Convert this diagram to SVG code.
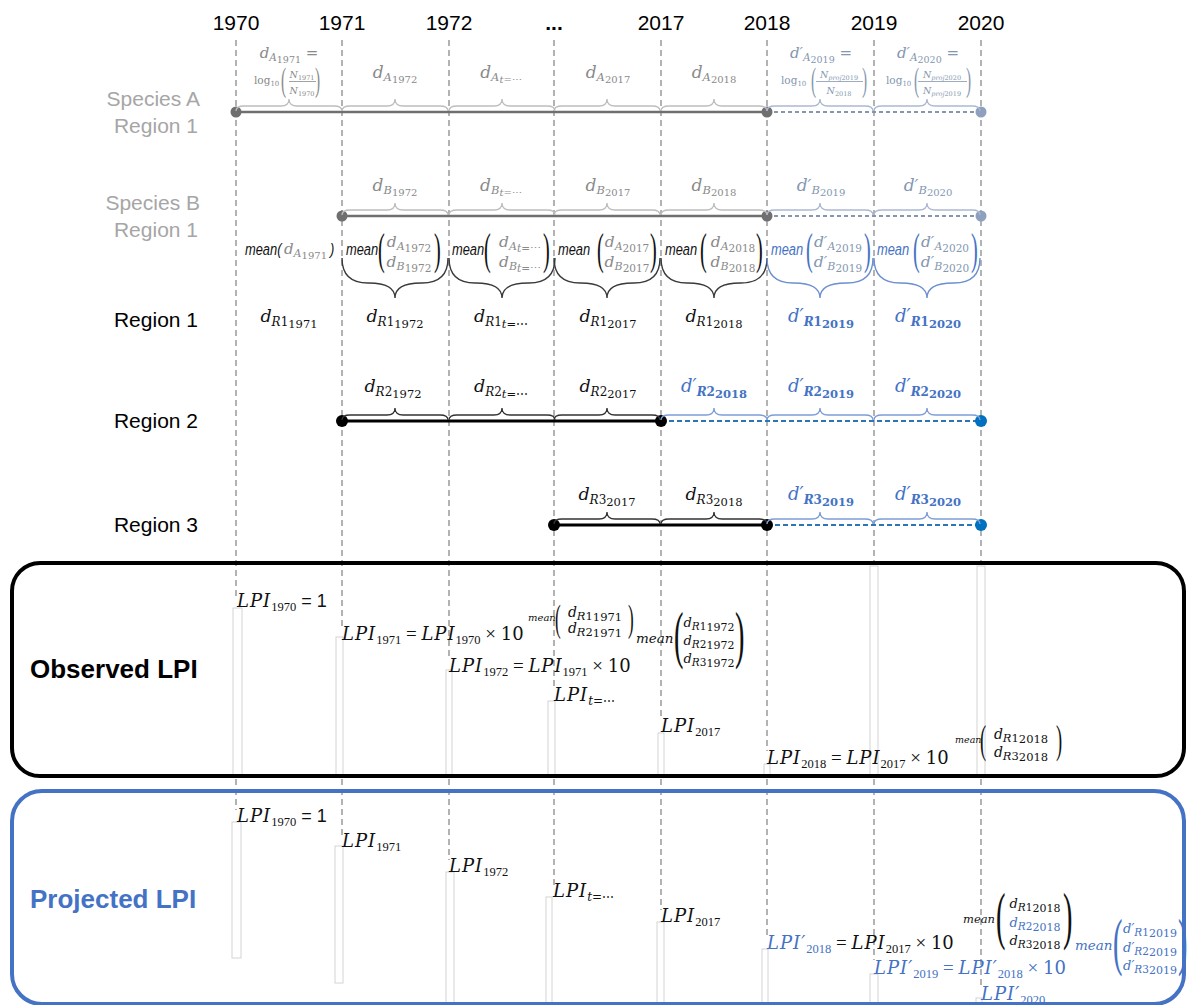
<svg xmlns="http://www.w3.org/2000/svg" width="1187" height="1005" viewBox="0 0 1187 1005">
<style>
text{font-family:"DejaVu Serif",serif}
.yr{font-family:"Liberation Sans",Arial,sans-serif;font-size:21px;text-anchor:middle;fill:#000}
.rl{font-family:"Liberation Sans",Arial,sans-serif;font-size:21px;text-anchor:end}
.bl{font-family:"Liberation Sans",Arial,sans-serif;font-size:26px;font-weight:bold}
.m{font-style:italic}
.u{font-style:normal}
.c{text-anchor:middle}
.sn{font-family:"Liberation Sans",Arial,sans-serif;font-style:italic;font-size:16.5px}
.pr{font-family:"Liberation Serif",serif;font-style:normal}
.op{font-family:"Liberation Serif",serif;font-style:normal}
.ls{font-family:"Liberation Serif",serif;font-style:normal;font-size:12.5px}
.vd{fill:none;stroke:#808080;stroke-width:1.2;stroke-dasharray:6 4}
.tb{fill:#fff;stroke:#d4d4d4;stroke-width:1}
.g{fill:#8a8a8a}.gb{fill:#8497b0}.k{fill:#111}.b{fill:#4472c4}
.brg{fill:none;stroke:#bdbdbd;stroke-width:1.3}
.brgb{fill:none;stroke:#aab9d1;stroke-width:1.3}
.brk{fill:none;stroke:#333;stroke-width:1.3}
.brb{fill:none;stroke:#7d9dd6;stroke-width:1.3}
.bbk{fill:none;stroke:#3a3a3a;stroke-width:1.4}
.bbb{fill:none;stroke:#6b8fd0;stroke-width:1.4}
.sl{stroke:#6f6f6f;stroke-width:2.5}
.sd{stroke:#8497b0;stroke-width:2;stroke-dasharray:4 3}
.kl{stroke:#000;stroke-width:3}
.bd{stroke:#2e75b6;stroke-width:2.2;stroke-dasharray:5 3}
</style>
<defs>
<path id="sb" d="M0,0 Q0,-5 8,-5 L45,-5 Q53,-5 53,-12 Q53,-5 61,-5 L98,-5 Q106,-5 106,0"/>
<path id="bb" d="M0,0 Q0,25 26,25 L27,25 Q53,25 53,40 Q53,25 79,25 L80,25 Q106,25 106,0"/>
</defs>
<rect width="1187" height="1005" fill="#fff"/>

<g id="connectors">
<line class="vd" x1="236" y1="40" x2="236" y2="600"/>
<line class="vd" x1="342" y1="40" x2="342" y2="626"/>
<line class="vd" x1="449" y1="40" x2="449" y2="658"/>
<line class="vd" x1="554" y1="40" x2="554" y2="688"/>
<line class="vd" x1="661" y1="40" x2="661" y2="719"/>
<line class="vd" x1="767" y1="40" x2="767" y2="751"/>
<line class="vd" x1="874" y1="40" x2="874" y2="563"/>
<line class="vd" x1="981" y1="40" x2="981" y2="563"/>
<line class="vd" x1="236" y1="779" x2="236" y2="810"/>
<line class="vd" x1="342" y1="779" x2="342" y2="835"/>
<line class="vd" x1="449" y1="779" x2="449" y2="860"/>
<line class="vd" x1="554" y1="779" x2="554" y2="885"/>
<line class="vd" x1="661" y1="779" x2="661" y2="910"/>
<line class="vd" x1="767" y1="779" x2="767" y2="936"/>
<line class="vd" x1="874" y1="779" x2="874" y2="960"/>
<line class="vd" x1="981" y1="779" x2="981" y2="986"/>
<line class="sl" x1="236" y1="112" x2="767" y2="112"/>
<line class="sd" x1="767" y1="112" x2="981" y2="112"/>
<line class="sl" x1="342" y1="216" x2="767" y2="216"/>
<line class="sd" x1="767" y1="216" x2="981" y2="216"/>
<line class="kl" x1="342" y1="421" x2="661" y2="421"/>
<line class="bd" x1="661" y1="421" x2="981" y2="421"/>
<line class="kl" x1="554" y1="525" x2="767" y2="525"/>
<line class="bd" x1="767" y1="525" x2="981" y2="525"/>
</g>

<g id="textframes">
<rect class="tb" x="233" y="608" width="9" height="167"/>
<rect class="tb" x="336" y="637" width="7" height="138"/>
<rect class="tb" x="446" y="670" width="6" height="105"/>
<rect class="tb" x="548" y="701" width="7" height="74"/>
<rect class="tb" x="658" y="733" width="6" height="42"/>
<rect class="tb" x="764" y="764" width="6" height="11"/>
<rect class="tb" x="870" y="566" width="8" height="209"/>
<rect class="tb" x="977" y="566" width="8" height="209"/>
<rect class="tb" x="232" y="822" width="9" height="136"/>
<rect class="tb" x="335" y="846" width="8" height="137"/>
<rect class="tb" x="446" y="872" width="8" height="133"/>
<rect class="tb" x="546" y="897" width="6" height="108"/>
<rect class="tb" x="657" y="922" width="7" height="83"/>
<rect class="tb" x="762" y="949" width="6" height="56"/>
<rect class="tb" x="870" y="974" width="8" height="31"/>
<rect class="tb" x="976" y="998" width="6" height="7"/>
</g>

<g id="years">
<text class="yr" x="236" y="30">1970</text>
<text class="yr" x="342" y="30">1971</text>
<text class="yr" x="449" y="30">1972</text>
<text class="yr" x="554" y="30" font-weight="bold">...</text>
<text class="yr" x="661" y="30">2017</text>
<text class="yr" x="767" y="30">2018</text>
<text class="yr" x="874" y="30">2019</text>
<text class="yr" x="981" y="30">2020</text>
</g>

<g id="speciesA">
<text class="rl" x="200" y="106" fill="#a6a6a6">Species A</text>
<text class="rl" x="198" y="133" fill="#a6a6a6">Region 1</text>
<circle cx="236" cy="112" r="5.5" fill="#6f6f6f"/>
<circle cx="767" cy="112" r="5.5" fill="#6f6f6f"/>
<circle cx="981" cy="112" r="5.5" fill="#8ea0bd"/>
<use href="#sb" x="236" y="111" class="brg"/>
<use href="#sb" x="342" y="111" class="brg"/>
<use href="#sb" x="449" y="111" class="brg"/>
<use href="#sb" x="554" y="111" class="brg"/>
<use href="#sb" x="661" y="111" class="brg"/>
<use href="#sb" x="767" y="111" class="brgb"/>
<use href="#sb" x="874" y="111" class="brgb"/>
<text class="m g c" x="289" y="58" font-size="15">d<tspan font-size="10.5" dy="3">A</tspan><tspan class="u" font-size="9.5" dy="1.5">1971</tspan><tspan class="u" font-size="15" dy="-4.5"> =</tspan></text>
<text class="g" x="254" y="84" font-size="10.5">log<tspan font-size="7" dy="2">10</tspan></text>
<text class="pr g" font-size="34" transform="translate(281,91) scale(0.45,1)">(</text>
<text class="m g c" x="302" y="78" font-size="9.5">N<tspan class="u" font-size="6.5" dy="1.5">1971</tspan></text>
<line x1="289" y1="81.5" x2="316" y2="81.5" stroke="#8a8a8a" stroke-width="0.8"/>
<text class="m g c" x="302" y="94" font-size="9.5">N<tspan class="u" font-size="6.5" dy="1.5">1970</tspan></text>
<text class="pr g" font-size="34" transform="translate(315,91) scale(0.45,1)">)</text>
<text class="m g c" x="395" y="78" font-size="17">d<tspan font-size="11.5" dy="3">A</tspan><tspan class="u" font-size="10" dy="1.5">1972</tspan></text>
<text class="m g c" x="501" y="78" font-size="17">d<tspan font-size="11.5" dy="3">A</tspan><tspan font-size="10" dy="1.5">t<tspan class="u">=⋯</tspan></tspan></text>
<text class="m g c" x="608" y="78" font-size="17">d<tspan font-size="11.5" dy="3">A</tspan><tspan class="u" font-size="10" dy="1.5">2017</tspan></text>
<text class="m g c" x="714" y="78" font-size="17">d<tspan font-size="11.5" dy="3">A</tspan><tspan class="u" font-size="10" dy="1.5">2018</tspan></text>
<text class="m gb c" x="821" y="58" font-size="15">d′<tspan font-size="10.5" dy="3">A</tspan><tspan class="u" font-size="9.5" dy="1.5">2019</tspan><tspan class="u" font-size="15" dy="-4.5"> =</tspan></text>
<text class="gb" x="781" y="84" font-size="10.5">log<tspan font-size="7" dy="2">10</tspan></text>
<text class="pr gb" font-size="34" transform="translate(811,91) scale(0.45,1)">(</text>
<text class="m gb c" x="839" y="78" font-size="9.5">N<tspan font-size="6.5" dy="1.5">proj<tspan class="u">2019</tspan></tspan></text>
<line x1="816" y1="81.5" x2="863" y2="81.5" stroke="#8497b0" stroke-width="0.8"/>
<text class="m gb c" x="839" y="94" font-size="9.5">N<tspan class="u" font-size="6.5" dy="1.5">2018</tspan></text>
<text class="pr gb" font-size="34" transform="translate(862,91) scale(0.45,1)">)</text>
<text class="m gb c" x="928" y="58" font-size="15">d′<tspan font-size="10.5" dy="3">A</tspan><tspan class="u" font-size="9.5" dy="1.5">2020</tspan><tspan class="u" font-size="15" dy="-4.5"> =</tspan></text>
<text class="gb" x="886" y="84" font-size="10.5">log<tspan font-size="7" dy="2">10</tspan></text>
<text class="pr gb" font-size="34" transform="translate(914,91) scale(0.45,1)">(</text>
<text class="m gb c" x="942" y="78" font-size="9.5">N<tspan font-size="6.5" dy="1.5">proj<tspan class="u">2020</tspan></tspan></text>
<line x1="918" y1="81.5" x2="967" y2="81.5" stroke="#8497b0" stroke-width="0.8"/>
<text class="m gb c" x="942" y="94" font-size="9.5">N<tspan font-size="6.5" dy="1.5">proj<tspan class="u">2019</tspan></tspan></text>
<text class="pr gb" font-size="34" transform="translate(966,91) scale(0.45,1)">)</text>
</g>

<g id="speciesB">
<text class="rl" x="200" y="210" fill="#a6a6a6">Species B</text>
<text class="rl" x="198" y="237" fill="#a6a6a6">Region 1</text>
<circle cx="342" cy="216" r="5.5" fill="#6f6f6f"/>
<circle cx="767" cy="216" r="5.5" fill="#6f6f6f"/>
<circle cx="981" cy="216" r="5.5" fill="#8ea0bd"/>
<use href="#sb" x="342" y="215" class="brg"/>
<use href="#sb" x="449" y="215" class="brg"/>
<use href="#sb" x="554" y="215" class="brg"/>
<use href="#sb" x="661" y="215" class="brg"/>
<use href="#sb" x="767" y="215" class="brgb"/>
<use href="#sb" x="874" y="215" class="brgb"/>
<text class="m g c" x="395" y="191" font-size="17">d<tspan font-size="11.5" dy="3">B</tspan><tspan class="u" font-size="10" dy="1.5">1972</tspan></text>
<text class="m g c" x="501" y="191" font-size="17">d<tspan font-size="11.5" dy="3">B</tspan><tspan font-size="10" dy="1.5">t<tspan class="u">=⋯</tspan></tspan></text>
<text class="m g c" x="608" y="191" font-size="17">d<tspan font-size="11.5" dy="3">B</tspan><tspan class="u" font-size="10" dy="1.5">2017</tspan></text>
<text class="m g c" x="714" y="191" font-size="17">d<tspan font-size="11.5" dy="3">B</tspan><tspan class="u" font-size="10" dy="1.5">2018</tspan></text>
<text class="m gb c" x="821" y="191" font-size="17">d′<tspan font-size="11.5" dy="3">B</tspan><tspan class="u" font-size="10" dy="1.5">2019</tspan></text>
<text class="m gb c" x="928" y="191" font-size="17">d′<tspan font-size="11.5" dy="3">B</tspan><tspan class="u" font-size="10" dy="1.5">2020</tspan></text>
</g>

<g id="means">
<text class="sn k" transform="translate(245,255) scale(0.78,1)">mean(</text>
<text class="m g" x="284" y="254" font-size="15">d<tspan font-size="11" dy="3">A</tspan><tspan class="u" font-size="10" dy="1.5">1971</tspan></text>
<text class="sn k" transform="translate(330,255) scale(0.78,1)">)</text>
<use href="#bb" x="342" y="258" class="bbk"/>
<use href="#bb" x="449" y="258" class="bbk"/>
<use href="#bb" x="554" y="258" class="bbk"/>
<use href="#bb" x="661" y="258" class="bbk"/>
<use href="#bb" x="767" y="258" class="bbb"/>
<use href="#bb" x="874" y="258" class="bbb"/>
<text class="sn k" transform="translate(346,255) scale(0.78,1)">mean</text>
<text class="pr k" font-size="45" transform="translate(378,264) scale(0.45,1)">(</text>
<text class="m g c" x="409" y="247" font-size="15.5">d<tspan font-size="11" dy="3">A</tspan><tspan class="u" font-size="10.5" dy="1.5">1972</tspan></text>
<text class="m g c" x="409" y="267" font-size="15.5">d<tspan font-size="11" dy="3">B</tspan><tspan class="u" font-size="10.5" dy="1.5">1972</tspan></text>
<text class="pr k" font-size="45" transform="translate(434,264) scale(0.45,1)">)</text>
<text class="sn k" transform="translate(452,255) scale(0.78,1)">mean</text>
<text class="pr k" font-size="45" transform="translate(484,264) scale(0.45,1)">(</text>
<text class="m g c" x="520" y="247" font-size="15.5">d<tspan font-size="11" dy="3">A</tspan><tspan font-size="10.5" dy="1.5">t<tspan class="u">=⋯</tspan></tspan></text>
<text class="m g c" x="520" y="267" font-size="15.5">d<tspan font-size="11" dy="3">B</tspan><tspan font-size="10.5" dy="1.5">t<tspan class="u">=⋯</tspan></tspan></text>
<text class="pr k" font-size="45" transform="translate(543,264) scale(0.45,1)">)</text>
<text class="sn k" transform="translate(558,255) scale(0.78,1)">mean</text>
<text class="pr k" font-size="45" transform="translate(597,264) scale(0.45,1)">(</text>
<text class="m g c" x="627" y="247" font-size="15.5">d<tspan font-size="11" dy="3">A</tspan><tspan class="u" font-size="10.5" dy="1.5">2017</tspan></text>
<text class="m g c" x="627" y="267" font-size="15.5">d<tspan font-size="11" dy="3">B</tspan><tspan class="u" font-size="10.5" dy="1.5">2017</tspan></text>
<text class="pr k" font-size="45" transform="translate(650,264) scale(0.45,1)">)</text>
<text class="sn k" transform="translate(665,255) scale(0.78,1)">mean</text>
<text class="pr k" font-size="45" transform="translate(700,264) scale(0.45,1)">(</text>
<text class="m g c" x="733" y="247" font-size="15.5">d<tspan font-size="11" dy="3">A</tspan><tspan class="u" font-size="10.5" dy="1.5">2018</tspan></text>
<text class="m g c" x="733" y="267" font-size="15.5">d<tspan font-size="11" dy="3">B</tspan><tspan class="u" font-size="10.5" dy="1.5">2018</tspan></text>
<text class="pr k" font-size="45" transform="translate(756,264) scale(0.45,1)">)</text>
<text class="sn b" transform="translate(771,255) scale(0.78,1)">mean</text>
<text class="pr b" font-size="45" transform="translate(806,264) scale(0.45,1)">(</text>
<text class="m gb c" x="838" y="247" font-size="15.5">d′<tspan font-size="11" dy="3">A</tspan><tspan class="u" font-size="10.5" dy="1.5">2019</tspan></text>
<text class="m gb c" x="838" y="267" font-size="15.5">d′<tspan font-size="11" dy="3">B</tspan><tspan class="u" font-size="10.5" dy="1.5">2019</tspan></text>
<text class="pr b" font-size="45" transform="translate(864,264) scale(0.45,1)">)</text>
<text class="sn b" transform="translate(877,255) scale(0.78,1)">mean</text>
<text class="pr b" font-size="45" transform="translate(913,264) scale(0.45,1)">(</text>
<text class="m gb c" x="945" y="247" font-size="15.5">d′<tspan font-size="11" dy="3">A</tspan><tspan class="u" font-size="10.5" dy="1.5">2020</tspan></text>
<text class="m gb c" x="945" y="267" font-size="15.5">d′<tspan font-size="11" dy="3">B</tspan><tspan class="u" font-size="10.5" dy="1.5">2020</tspan></text>
<text class="pr b" font-size="45" transform="translate(971,264) scale(0.45,1)">)</text>
</g>

<g id="region1">
<text class="rl" x="198" y="327" fill="#000">Region 1</text>
<text class="m k c" x="289" y="322" font-size="17.5">d<tspan font-size="12" dy="4">R<tspan class="u">1</tspan></tspan><tspan class="u" font-size="11.5" dy="2">1971</tspan></text>
<text class="m k c" x="395" y="322" font-size="17.5">d<tspan font-size="12" dy="4">R<tspan class="u">1</tspan></tspan><tspan class="u" font-size="11.5" dy="2">1972</tspan></text>
<text class="m k c" x="501" y="322" font-size="17.5">d<tspan font-size="12" dy="4">R<tspan class="u">1</tspan></tspan><tspan font-size="11.5" dy="2">t<tspan class="u">=⋯</tspan></tspan></text>
<text class="m k c" x="608" y="322" font-size="17.5">d<tspan font-size="12" dy="4">R<tspan class="u">1</tspan></tspan><tspan class="u" font-size="11.5" dy="2">2017</tspan></text>
<text class="m k c" x="714" y="322" font-size="17.5">d<tspan font-size="12" dy="4">R<tspan class="u">1</tspan></tspan><tspan class="u" font-size="11.5" dy="2">2018</tspan></text>
<text class="m b c" x="821" y="322" font-size="18">d′<tspan font-size="12" dy="4" font-weight="bold">R<tspan class="u">1</tspan></tspan><tspan class="u" font-size="11.5" dy="2" font-weight="bold">2019</tspan></text>
<text class="m b c" x="928" y="322" font-size="18">d′<tspan font-size="12" dy="4" font-weight="bold">R<tspan class="u">1</tspan></tspan><tspan class="u" font-size="11.5" dy="2" font-weight="bold">2020</tspan></text>
</g>

<g id="region2">
<text class="rl" x="198" y="428" fill="#000">Region 2</text>
<circle cx="342" cy="421" r="6" fill="#000"/>
<circle cx="661" cy="421" r="6" fill="#000"/>
<circle cx="981" cy="421" r="6" fill="#0070c0"/>
<use href="#sb" x="342" y="420" class="brk"/>
<use href="#sb" x="449" y="420" class="brk"/>
<use href="#sb" x="554" y="420" class="brk"/>
<use href="#sb" x="661" y="420" class="brb"/>
<use href="#sb" x="767" y="420" class="brb"/>
<use href="#sb" x="874" y="420" class="brb"/>
<text class="m k c" x="393" y="392" font-size="17.5">d<tspan font-size="12" dy="4">R<tspan class="u">2</tspan></tspan><tspan class="u" font-size="11.5" dy="2">1972</tspan></text>
<text class="m k c" x="501" y="392" font-size="17.5">d<tspan font-size="12" dy="4">R<tspan class="u">2</tspan></tspan><tspan font-size="11.5" dy="2">t<tspan class="u">=⋯</tspan></tspan></text>
<text class="m k c" x="608" y="392" font-size="17.5">d<tspan font-size="12" dy="4">R<tspan class="u">2</tspan></tspan><tspan class="u" font-size="11.5" dy="2">2017</tspan></text>
<text class="m b c" x="714" y="392" font-size="18">d′<tspan font-size="12" dy="4" font-weight="bold">R<tspan class="u">2</tspan></tspan><tspan class="u" font-size="11.5" dy="2" font-weight="bold">2018</tspan></text>
<text class="m b c" x="821" y="392" font-size="18">d′<tspan font-size="12" dy="4" font-weight="bold">R<tspan class="u">2</tspan></tspan><tspan class="u" font-size="11.5" dy="2" font-weight="bold">2019</tspan></text>
<text class="m b c" x="928" y="392" font-size="18">d′<tspan font-size="12" dy="4" font-weight="bold">R<tspan class="u">2</tspan></tspan><tspan class="u" font-size="11.5" dy="2" font-weight="bold">2020</tspan></text>
</g>

<g id="region3">
<text class="rl" x="198" y="532" fill="#000">Region 3</text>
<circle cx="554" cy="525" r="6" fill="#000"/>
<circle cx="767" cy="525" r="6" fill="#000"/>
<circle cx="981" cy="525" r="6" fill="#0070c0"/>
<use href="#sb" x="554" y="524" class="brk"/>
<use href="#sb" x="661" y="524" class="brk"/>
<use href="#sb" x="767" y="524" class="brb"/>
<use href="#sb" x="874" y="524" class="brb"/>
<text class="m k c" x="607" y="500" font-size="17.5">d<tspan font-size="12" dy="4">R<tspan class="u">3</tspan></tspan><tspan class="u" font-size="11.5" dy="2">2017</tspan></text>
<text class="m k c" x="714" y="500" font-size="17.5">d<tspan font-size="12" dy="4">R<tspan class="u">3</tspan></tspan><tspan class="u" font-size="11.5" dy="2">2018</tspan></text>
<text class="m b c" x="821" y="500" font-size="18">d′<tspan font-size="12" dy="4" font-weight="bold">R<tspan class="u">3</tspan></tspan><tspan class="u" font-size="11.5" dy="2" font-weight="bold">2019</tspan></text>
<text class="m b c" x="928" y="500" font-size="18">d′<tspan font-size="12" dy="4" font-weight="bold">R<tspan class="u">3</tspan></tspan><tspan class="u" font-size="11.5" dy="2" font-weight="bold">2020</tspan></text>
</g>

<g id="observed">
<rect x="12" y="563" width="1172" height="213" rx="28" fill="none" stroke="#000" stroke-width="4"/>
<text class="bl" x="30" y="678" fill="#000">Observed LPI</text>
<text class="k" x="237" y="607" font-size="18"><tspan class="m" letter-spacing="1">LPI</tspan><tspan class="ls" dy="4">1970</tspan><tspan font-family="Liberation Sans" dy="-4"> = 1</tspan></text>
<text class="k" x="342" y="640" font-size="18"><tspan class="m" letter-spacing="1">LPI</tspan><tspan class="ls" dy="4">1971</tspan><tspan class="op" font-size="19" dy="-4"> = </tspan><tspan class="m" letter-spacing="1">LPI</tspan><tspan class="ls" dy="4">1970</tspan><tspan class="op" font-size="19" dy="-4"> × </tspan><tspan>10</tspan></text>
<text class="m k" x="528" y="621" font-size="10">mean</text>
<text class="pr k" font-size="38" transform="translate(555,631) scale(0.45,1)">(</text>
<text class="m k c" x="595" y="617" font-size="14">d<tspan font-size="11.5" dy="2.5">R<tspan class="u">1</tspan></tspan><tspan class="u" font-size="11.5" dy="1.5">1971</tspan></text>
<text class="m k c" x="595" y="633" font-size="14">d<tspan font-size="11.5" dy="2.5">R<tspan class="u">2</tspan></tspan><tspan class="u" font-size="11.5" dy="1.5">1971</tspan></text>
<text class="pr k" font-size="38" transform="translate(628,631) scale(0.45,1)">)</text>
<text class="k" x="449" y="672" font-size="18"><tspan class="m" letter-spacing="1">LPI</tspan><tspan class="ls" dy="4">1972</tspan><tspan class="op" font-size="19" dy="-4"> = </tspan><tspan class="m" letter-spacing="1">LPI</tspan><tspan class="ls" dy="4">1971</tspan><tspan class="op" font-size="19" dy="-4"> × </tspan><tspan>10</tspan></text>
<text class="m k" x="636" y="643" font-size="13.5">mean</text>
<text class="pr k" font-size="63" transform="translate(674,656) scale(0.45,1)">(</text>
<text class="m k c" x="709" y="627" font-size="13">d<tspan font-size="10.5" dy="2.5">R<tspan class="u">1</tspan></tspan><tspan class="u" font-size="11" dy="1.5">1972</tspan></text>
<text class="m k c" x="709" y="645" font-size="13">d<tspan font-size="10.5" dy="2.5">R<tspan class="u">2</tspan></tspan><tspan class="u" font-size="11" dy="1.5">1972</tspan></text>
<text class="m k c" x="709" y="663" font-size="13">d<tspan font-size="10.5" dy="2.5">R<tspan class="u">3</tspan></tspan><tspan class="u" font-size="11" dy="1.5">1972</tspan></text>
<text class="pr k" font-size="63" transform="translate(735,656) scale(0.45,1)">)</text>
<text class="k" x="554" y="701" font-size="18"><tspan class="m" letter-spacing="1">LPI</tspan><tspan class="m" font-size="12" dy="4">t<tspan class="u">=⋯</tspan></tspan></text>
<text class="k" x="661" y="732" font-size="18"><tspan class="m" letter-spacing="1">LPI</tspan><tspan class="ls" dy="4">2017</tspan></text>
<text class="k" x="767" y="764" font-size="18"><tspan class="m" letter-spacing="1">LPI</tspan><tspan class="ls" dy="4">2018</tspan><tspan class="op" font-size="19" dy="-4"> = </tspan><tspan class="m" letter-spacing="1">LPI</tspan><tspan class="ls" dy="4">2017</tspan><tspan class="op" font-size="19" dy="-4"> × </tspan><tspan>10</tspan></text>
<text class="m k" x="955" y="743" font-size="9.5">mean</text>
<text class="pr k" font-size="41" transform="translate(980,753) scale(0.45,1)">(</text>
<text class="m k c" x="1021" y="739" font-size="14">d<tspan font-size="11.5" dy="2.5">R<tspan class="u">1</tspan></tspan><tspan class="u" font-size="11.5" dy="1.5">2018</tspan></text>
<text class="m k c" x="1021" y="757" font-size="14">d<tspan font-size="11.5" dy="2.5">R<tspan class="u">3</tspan></tspan><tspan class="u" font-size="11.5" dy="1.5">2018</tspan></text>
<text class="pr k" font-size="41" transform="translate(1056,753) scale(0.45,1)">)</text>
</g>

<g id="projected">
<rect x="12" y="791" width="1172" height="213" rx="30" fill="none" stroke="#4472c4" stroke-width="4"/>
<text class="bl" x="30" y="908" fill="#4472c4">Projected LPI</text>
<text class="k" x="237" y="822" font-size="18"><tspan class="m" letter-spacing="1">LPI</tspan><tspan class="ls" dy="4">1970</tspan><tspan font-family="Liberation Sans" dy="-4"> = 1</tspan></text>
<text class="k" x="342" y="847" font-size="18"><tspan class="m" letter-spacing="1">LPI</tspan><tspan class="ls" dy="4">1971</tspan></text>
<text class="k" x="449" y="872" font-size="18"><tspan class="m" letter-spacing="1">LPI</tspan><tspan class="ls" dy="4">1972</tspan></text>
<text class="k" x="553" y="897" font-size="18"><tspan class="m" letter-spacing="1">LPI</tspan><tspan class="m" font-size="12" dy="4">t<tspan class="u">=⋯</tspan></tspan></text>
<text class="k" x="661" y="922" font-size="18"><tspan class="m" letter-spacing="1">LPI</tspan><tspan class="ls" dy="4">2017</tspan></text>
<text x="767" y="949" font-size="18"><tspan class="m b" letter-spacing="1">LPI′</tspan><tspan class="ls b" dy="4">2018</tspan><tspan class="op k" font-size="19" dy="-4"> = </tspan><tspan class="m k" letter-spacing="1">LPI</tspan><tspan class="ls k" dy="4">2017</tspan><tspan class="op k" font-size="19" dy="-4"> × </tspan><tspan class="k">10</tspan></text>
<text class="m k" x="963" y="923" font-size="11.5">mean</text>
<text class="pr k" font-size="63" transform="translate(996,937) scale(0.45,1)">(</text>
<text class="m k c" x="1035" y="908" font-size="13">d<tspan font-size="10.5" dy="2.5">R<tspan class="u">1</tspan></tspan><tspan class="u" font-size="11" dy="1.5">2018</tspan></text>
<text class="m b c" x="1035" y="927" font-size="13">d<tspan font-size="10.5" dy="2.5">R<tspan class="u">2</tspan></tspan><tspan class="u" font-size="11" dy="1.5">2018</tspan></text>
<text class="m k c" x="1035" y="945" font-size="13">d<tspan font-size="10.5" dy="2.5">R<tspan class="u">3</tspan></tspan><tspan class="u" font-size="11" dy="1.5">2018</tspan></text>
<text class="pr k" font-size="63" transform="translate(1063,937) scale(0.45,1)">)</text>
<text class="b" x="874" y="974" font-size="18"><tspan class="m" letter-spacing="1">LPI′</tspan><tspan class="ls" dy="4">2019</tspan><tspan class="op" font-size="19" dy="-4"> = </tspan><tspan class="m" letter-spacing="1">LPI′</tspan><tspan class="ls" dy="4">2018</tspan><tspan class="op" font-size="19" dy="-4"> × </tspan><tspan>10</tspan></text>
<text class="m b" x="1075" y="950" font-size="13.5">mean</text>
<text class="pr b" font-size="63" transform="translate(1113,963) scale(0.45,1)">(</text>
<text class="m b c" x="1150" y="933" font-size="13">d′<tspan font-size="10.5" dy="2.5">R<tspan class="u">1</tspan></tspan><tspan class="u" font-size="11" dy="1.5">2019</tspan></text>
<text class="m b c" x="1150" y="952" font-size="13">d′<tspan font-size="10.5" dy="2.5">R<tspan class="u">2</tspan></tspan><tspan class="u" font-size="11" dy="1.5">2019</tspan></text>
<text class="m b c" x="1150" y="970" font-size="13">d′<tspan font-size="10.5" dy="2.5">R<tspan class="u">3</tspan></tspan><tspan class="u" font-size="11" dy="1.5">2019</tspan></text>
<text class="pr b" font-size="63" transform="translate(1178,963) scale(0.45,1)">)</text>
<text class="b" x="981" y="1000" font-size="18"><tspan class="m" letter-spacing="1">LPI′</tspan><tspan class="ls" dy="4">2020</tspan></text>
</g>
</svg>
